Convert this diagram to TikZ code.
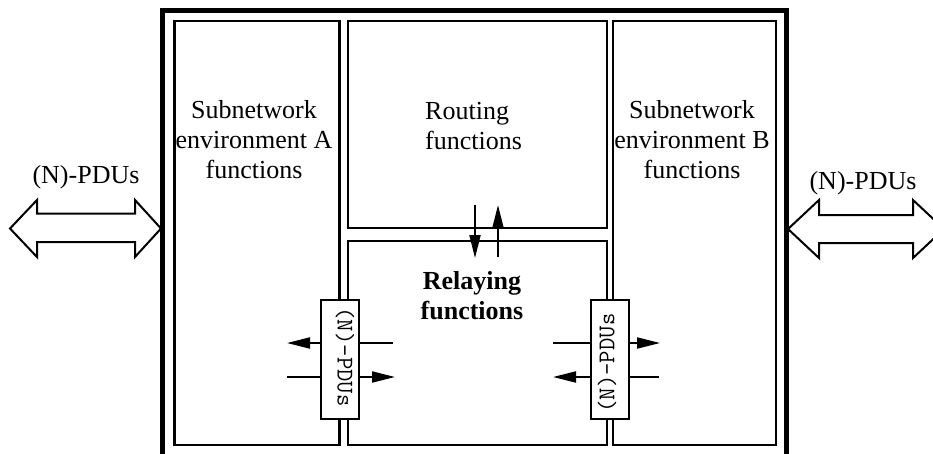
\documentclass[tikz,border=0pt]{standalone}
\usepackage{fontspec}
\setmainfont{Liberation Serif}
\usetikzlibrary{arrows.meta}
\tikzset{
  fbox/.style={draw, line width=2.2pt, inner sep=0pt, fill=white},
  lbl/.style={font=\fontsize{26}{30}\selectfont, inner sep=0pt, align=center},
  blbl/.style={font=\fontsize{26}{30}\selectfont\bfseries, inner sep=0pt, align=center},
  pdu/.style={font=\ttfamily\fontsize{24}{26}\selectfont, inner sep=0pt},
  conn/.style={line width=2pt, -{Triangle[length=23pt,width=11pt]}},
  hollow/.style={draw, line width=2pt, fill=white, line join=miter},
}
\begin{document}
\begin{tikzpicture}[x=1pt,y=-1pt]
\useasboundingbox (0,0) rectangle (933,453);
\clip (0,0) rectangle (933,453);
\fill[white] (0,0) rectangle (933,453);
% outer frame (bottom edge lies outside the picture)
\node[draw, line width=5pt, inner sep=0pt, minimum width=624pt, minimum height=458.4pt] (outer) at (474.5,240) {};
% inner blocks
\node[fbox, minimum width=165pt, minimum height=424.3pt] (envA) at (257,232.85) {};
\node[fbox, minimum width=259pt, minimum height=207.3pt] (routing) at (477.5,124.35) {};
\node[fbox, minimum width=259pt, minimum height=203.7pt] (relay) at (477.5,343.15) {};
\node[fbox, minimum width=163pt, minimum height=424.3pt] (envB) at (694.5,232.85) {};
% texts
\node[lbl, anchor=north] (tA) at (254,100) {Subnetwork\\environment A\\functions};
\node[lbl, anchor=north west, align=left] (tR) at (425,102.5) {Routing\\functions};
\node[blbl, anchor=north] (tRel) at (472,271) {Relaying\\functions};
\node[lbl, anchor=north] (tB) at (692,100) {Subnetwork\\environment B\\functions};
% routing <-> relaying arrows
\coordinate (d1) at (475,205);
\coordinate (d2) at (475,258);
\coordinate (u1) at (498,257);
\coordinate (u2) at (498,205);
\draw[conn] (d1) -- (d2);
\draw[conn] (u1) -- (u2);
% PDU arrows, left
\coordinate (la1) at (393,343);
\coordinate (la2) at (287,343);
\coordinate (lb1) at (287,377);
\coordinate (lb2) at (395,377);
\draw[conn] (la1) -- (la2);
\draw[conn] (lb1) -- (lb2);
% PDU arrows, right
\coordinate (ra1) at (553,343);
\coordinate (ra2) at (660,343);
\coordinate (rb1) at (659,377);
\coordinate (rb2) at (553,377);
\draw[conn] (ra1) -- (ra2);
\draw[conn] (rb1) -- (rb2);
% PDU boxes
\node[fbox, minimum width=38pt, minimum height=119pt] (pA) at (340,359.5) {};
\node[fbox, minimum width=38pt, minimum height=119pt] (pB) at (610,359.5) {};
\node[pdu, rotate=-90] (pAt) at (345,357) {(N)-PDUs};
\node[pdu, rotate=90] (pBt) at (607,363) {(N)-PDUs};
% hollow double arrows
\draw[hollow] (10,228.5) -- (37,200) -- (37,213.5) -- (135,213.5) -- (135,200) -- (161,228.5)
  -- (135,257) -- (135,242) -- (37,242) -- (37,257) -- cycle;
\draw[hollow] (788,229) -- (819,200) -- (819,215) -- (913,215) -- (913,200) -- (944,229)
  -- (913,258) -- (913,243) -- (819,243) -- (819,258) -- cycle;
\node[lbl, anchor=base] (lA) at (86,183) {(N)-PDUs};
\node[lbl, anchor=base] (lB) at (863,189) {(N)-PDUs};
\end{tikzpicture}
\end{document}
